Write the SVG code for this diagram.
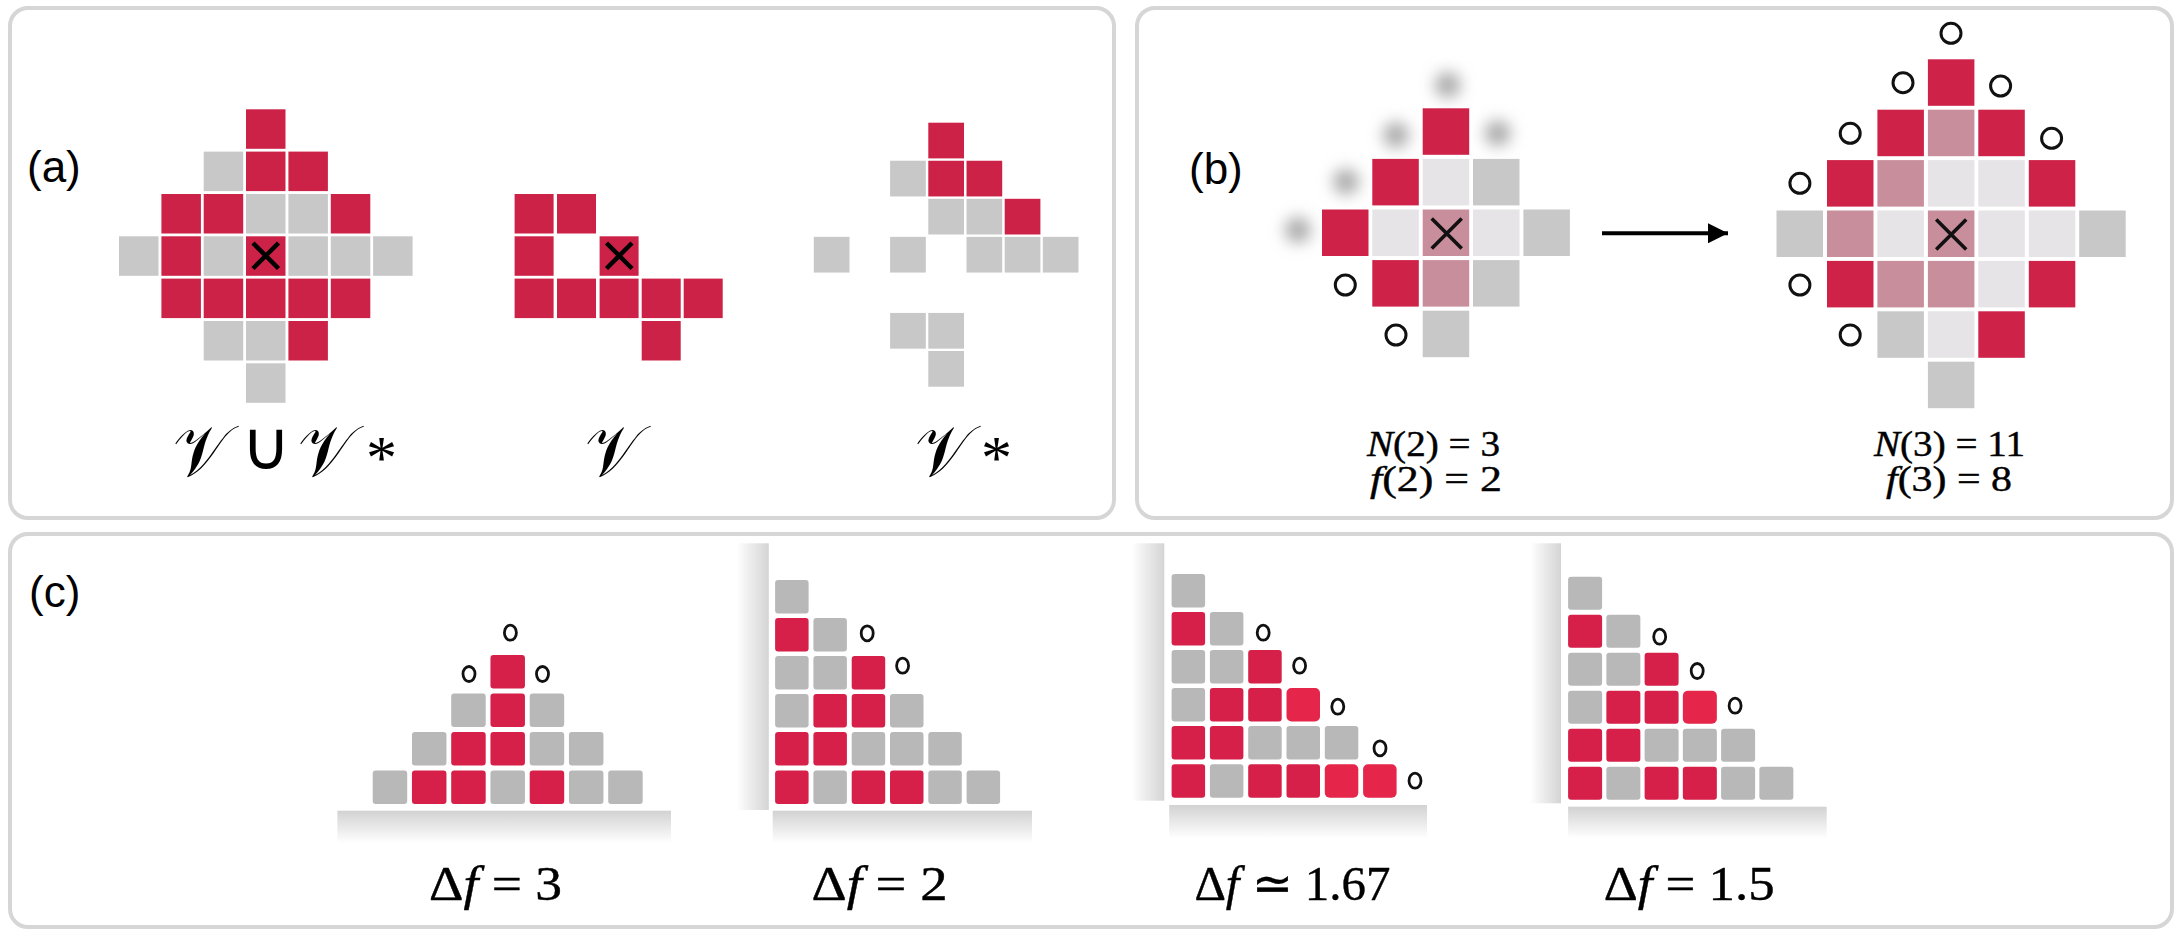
<svg xmlns="http://www.w3.org/2000/svg" width="2184" height="938" viewBox="0 0 2184 938">
<style>
.panel{fill:#fff;stroke:#d6d6d6;stroke-width:4}
.lab{font-family:"Liberation Sans",Arial,sans-serif;font-size:44px;fill:#000}
.math{font-family:"Liberation Serif","Times New Roman",serif;fill:#000;stroke:#000;stroke-width:0.4}
.scr{font-family:"DejaVu Serif","DejaVu Sans",serif;fill:#000}
.it{font-style:italic}
.r{fill:#cd2247}.g{fill:#c8c8c8}
.rb{fill:#ce2249}.lt{fill:#e6e4e6}.pk{fill:#c98e9c}
.cr{fill:#d62049}.cb{fill:#e5264a}.cg{fill:#b8b8b8}
.xa{stroke:#000;stroke-width:4.5;stroke-linecap:butt}
.xb{stroke:#111;stroke-width:3.6}
.o{fill:none;stroke:#111;stroke-width:3}
.oc{fill:none;stroke:#111;stroke-width:2.8}
.blob{fill:#ababab;filter:url(#blur)}
</style>
<defs>
<filter id="blur" x="-1.5" y="-1.5" width="4" height="4"><feGaussianBlur stdDeviation="7.5"/></filter>
<linearGradient id="floor" x1="0" y1="0" x2="0" y2="1"><stop offset="0" stop-color="#d2d2d2"/><stop offset="1" stop-color="#ffffff"/></linearGradient>
<linearGradient id="wall" x1="0" y1="0" x2="1" y2="0"><stop offset="0" stop-color="#ffffff"/><stop offset="1" stop-color="#d4d4d4"/></linearGradient>
<marker id="ah" viewBox="0 0 10 10" refX="10" refY="5" markerWidth="5" markerHeight="5" orient="auto" markerUnits="strokeWidth"><path d="M0,0 L10,5 L0,10 z" fill="#000"/></marker>
</defs>

<rect class="panel" x="10" y="8" width="1104" height="510" rx="18"/>
<rect class="panel" x="1137" y="8" width="1035" height="510" rx="18"/>
<rect class="panel" x="10" y="534" width="2162" height="393" rx="18"/>

<g id="panel-a">
<text class="lab" x="27" y="182">(a)</text>
<g id="grid-union">
<rect class="r" x="246" y="109.3" width="39.5" height="39.5"/>
<rect class="g" x="203.7" y="151.6" width="39.5" height="39.5"/>
<rect class="r" x="246" y="151.6" width="39.5" height="39.5"/>
<rect class="r" x="288.4" y="151.6" width="39.5" height="39.5"/>
<rect class="r" x="161.4" y="194" width="39.5" height="39.5"/>
<rect class="r" x="203.7" y="194" width="39.5" height="39.5"/>
<rect class="g" x="246" y="194" width="39.5" height="39.5"/>
<rect class="g" x="288.4" y="194" width="39.5" height="39.5"/>
<rect class="r" x="330.8" y="194" width="39.5" height="39.5"/>
<rect class="g" x="119" y="236.3" width="39.5" height="39.5"/>
<rect class="r" x="161.4" y="236.3" width="39.5" height="39.5"/>
<rect class="g" x="203.7" y="236.3" width="39.5" height="39.5"/>
<rect class="r" x="246" y="236.3" width="39.5" height="39.5"/>
<rect class="g" x="288.4" y="236.3" width="39.5" height="39.5"/>
<rect class="g" x="330.8" y="236.3" width="39.5" height="39.5"/>
<rect class="g" x="373.1" y="236.3" width="39.5" height="39.5"/>
<rect class="r" x="161.4" y="278.6" width="39.5" height="39.5"/>
<rect class="r" x="203.7" y="278.6" width="39.5" height="39.5"/>
<rect class="r" x="246" y="278.6" width="39.5" height="39.5"/>
<rect class="r" x="288.4" y="278.6" width="39.5" height="39.5"/>
<rect class="r" x="330.8" y="278.6" width="39.5" height="39.5"/>
<rect class="g" x="203.7" y="321" width="39.5" height="39.5"/>
<rect class="g" x="246" y="321" width="39.5" height="39.5"/>
<rect class="r" x="288.4" y="321" width="39.5" height="39.5"/>
<rect class="g" x="246" y="363.3" width="39.5" height="39.5"/>
<path class="xa" d="M253,243 L278.5,268.5 M278.5,243 L253,268.5"/>
<text class="scr" y="476"><tspan x="173" font-size="72" textLength="57" lengthAdjust="spacingAndGlyphs">𝒱</tspan><tspan x="241" y="469" style="font-family:'DejaVu Sans',sans-serif;font-size:68px">∪</tspan><tspan x="298" y="476" font-size="72" textLength="57" lengthAdjust="spacingAndGlyphs">𝒱</tspan><tspan x="366" y="478" style="font-family:'Liberation Serif',serif;font-size:62px">*</tspan></text>
</g>
<g id="grid-v">
<rect class="r" x="514.6" y="194" width="39" height="39.5"/>
<rect class="r" x="557" y="194" width="39" height="39.5"/>
<rect class="r" x="514.6" y="236.3" width="39" height="39.5"/>
<rect class="r" x="599.6" y="236.3" width="39" height="39.5"/>
<rect class="r" x="514.6" y="278.6" width="39" height="39.5"/>
<rect class="r" x="557" y="278.6" width="39" height="39.5"/>
<rect class="r" x="599.6" y="278.6" width="39" height="39.5"/>
<rect class="r" x="641.7" y="278.6" width="39" height="39.5"/>
<rect class="r" x="683.7" y="278.6" width="39" height="39.5"/>
<rect class="r" x="641.7" y="321" width="39" height="39.5"/>
<path class="xa" d="M606.5,243 L632,268.5 M632,243 L606.5,268.5"/>
<text class="scr" x="585" y="476" font-size="72" textLength="57" lengthAdjust="spacingAndGlyphs">𝒱</text>
</g>
<g id="grid-vstar">
<rect class="r" x="928.3" y="122.7" width="35.7" height="35.7"/>
<rect class="g" x="890.1" y="160.75" width="35.7" height="35.7"/>
<rect class="r" x="928.3" y="160.75" width="35.7" height="35.7"/>
<rect class="r" x="966.5" y="160.75" width="35.7" height="35.7"/>
<rect class="g" x="928.3" y="198.8" width="35.7" height="35.7"/>
<rect class="g" x="966.5" y="198.8" width="35.7" height="35.7"/>
<rect class="r" x="1004.7" y="198.8" width="35.7" height="35.7"/>
<rect class="g" x="813.8" y="236.85" width="35.7" height="35.7"/>
<rect class="g" x="890.1" y="236.85" width="35.7" height="35.7"/>
<rect class="g" x="966.5" y="236.85" width="35.7" height="35.7"/>
<rect class="g" x="1004.7" y="236.85" width="35.7" height="35.7"/>
<rect class="g" x="1042.8" y="236.85" width="35.7" height="35.7"/>
<rect class="g" x="890.1" y="312.95" width="35.7" height="35.7"/>
<rect class="g" x="928.3" y="312.95" width="35.7" height="35.7"/>
<rect class="g" x="928.3" y="351" width="35.7" height="35.7"/>
<text class="scr" y="476"><tspan x="915" font-size="72" textLength="57" lengthAdjust="spacingAndGlyphs">𝒱</tspan><tspan x="981" y="478" style="font-family:'Liberation Serif',serif;font-size:62px">*</tspan></text>
</g>
</g>

<g id="panel-b">
<text class="lab" x="1189" y="184">(b)</text>
<g id="grid-b2">
<circle class="blob" cx="1447.7" cy="85" r="13"/>
<circle class="blob" cx="1396" cy="135" r="13"/>
<circle class="blob" cx="1497.7" cy="133.3" r="13"/>
<circle class="blob" cx="1346" cy="181.7" r="13"/>
<circle class="blob" cx="1297.8" cy="230" r="13"/>
<rect class="rb" x="1422.7" y="108.3" width="46.5" height="46.5"/>
<rect class="rb" x="1372.3" y="158.9" width="46.5" height="46.5"/>
<rect class="lt" x="1422.7" y="158.9" width="46.5" height="46.5"/>
<rect class="g" x="1473" y="158.9" width="46.5" height="46.5"/>
<rect class="rb" x="1322" y="209.5" width="46.5" height="46.5"/>
<rect class="lt" x="1372.3" y="209.5" width="46.5" height="46.5"/>
<rect class="pk" x="1422.7" y="209.5" width="46.5" height="46.5"/>
<rect class="lt" x="1473" y="209.5" width="46.5" height="46.5"/>
<rect class="g" x="1523.4" y="209.5" width="46.5" height="46.5"/>
<rect class="rb" x="1372.3" y="260.1" width="46.5" height="46.5"/>
<rect class="pk" x="1422.7" y="260.1" width="46.5" height="46.5"/>
<rect class="g" x="1473" y="260.1" width="46.5" height="46.5"/>
<rect class="g" x="1422.7" y="310.7" width="46.5" height="46.5"/>
<path class="xb" d="M1431.7,218.5 L1461.7,248.5 M1461.7,218.5 L1431.7,248.5"/>
<circle class="o" cx="1345.3" cy="285" r="10"/>
<circle class="o" cx="1396" cy="335" r="10"/>
<text class="math" font-size="35" x="1367" y="456" textLength="133" lengthAdjust="spacingAndGlyphs"><tspan class="it">N</tspan>(2) = 3</text>
<text class="math" font-size="35" x="1370" y="491" textLength="132" lengthAdjust="spacingAndGlyphs"><tspan class="it">f</tspan>(2) = 2</text>
</g>
<g id="grid-b3">
<rect class="rb" x="1927.9" y="59.3" width="46.5" height="46.5"/>
<rect class="rb" x="1877.4" y="109.7" width="46.5" height="46.5"/>
<rect class="pk" x="1927.9" y="109.7" width="46.5" height="46.5"/>
<rect class="rb" x="1978.3" y="109.7" width="46.5" height="46.5"/>
<rect class="rb" x="1827" y="160.1" width="46.5" height="46.5"/>
<rect class="pk" x="1877.4" y="160.1" width="46.5" height="46.5"/>
<rect class="lt" x="1927.9" y="160.1" width="46.5" height="46.5"/>
<rect class="lt" x="1978.3" y="160.1" width="46.5" height="46.5"/>
<rect class="rb" x="2028.8" y="160.1" width="46.5" height="46.5"/>
<rect class="g" x="1776.5" y="210.5" width="46.5" height="46.5"/>
<rect class="pk" x="1827" y="210.5" width="46.5" height="46.5"/>
<rect class="lt" x="1877.4" y="210.5" width="46.5" height="46.5"/>
<rect class="pk" x="1927.9" y="210.5" width="46.5" height="46.5"/>
<rect class="lt" x="1978.3" y="210.5" width="46.5" height="46.5"/>
<rect class="lt" x="2028.8" y="210.5" width="46.5" height="46.5"/>
<rect class="g" x="2079.2" y="210.5" width="46.5" height="46.5"/>
<rect class="rb" x="1827" y="260.9" width="46.5" height="46.5"/>
<rect class="pk" x="1877.4" y="260.9" width="46.5" height="46.5"/>
<rect class="pk" x="1927.9" y="260.9" width="46.5" height="46.5"/>
<rect class="lt" x="1978.3" y="260.9" width="46.5" height="46.5"/>
<rect class="rb" x="2028.8" y="260.9" width="46.5" height="46.5"/>
<rect class="g" x="1877.4" y="311.3" width="46.5" height="46.5"/>
<rect class="lt" x="1927.9" y="311.3" width="46.5" height="46.5"/>
<rect class="rb" x="1978.3" y="311.3" width="46.5" height="46.5"/>
<rect class="g" x="1927.9" y="361.7" width="46.5" height="46.5"/>
<path class="xb" d="M1936.2,219.5 L1966.2,249.5 M1966.2,219.5 L1936.2,249.5"/>
<circle class="o" cx="1951" cy="33.3" r="10"/>
<circle class="o" cx="1903" cy="82.7" r="10"/>
<circle class="o" cx="2000.6" cy="86" r="10"/>
<circle class="o" cx="1850.2" cy="133.3" r="10"/>
<circle class="o" cx="2051.6" cy="138.3" r="10"/>
<circle class="o" cx="1799.9" cy="183.3" r="10"/>
<circle class="o" cx="1799.9" cy="285" r="10"/>
<circle class="o" cx="1850.2" cy="335" r="10"/>
<text class="math" font-size="35" x="1874" y="456" textLength="151" lengthAdjust="spacingAndGlyphs"><tspan class="it">N</tspan>(3) = 11</text>
<text class="math" font-size="35" x="1886" y="491" textLength="126" lengthAdjust="spacingAndGlyphs"><tspan class="it">f</tspan>(3) = 8</text>
</g>
</g>

<g id="connectors">
<line x1="1602" y1="233.3" x2="1728" y2="233.3" stroke="#000" stroke-width="4" marker-end="url(#ah)"/>
</g>

<g id="panel-c">
<text class="lab" x="29" y="607">(c)</text>
<g id="stack-1">
<rect fill="url(#floor)" x="337.4" y="810.7" width="333.6" height="32.6"/>
<rect class="cr" x="490.45" y="655" width="34.5" height="33.5" rx="3"/>
<rect class="cg" x="451.2" y="693.5" width="34.5" height="33.5" rx="3"/>
<rect class="cr" x="490.45" y="693.5" width="34.5" height="33.5" rx="3"/>
<rect class="cg" x="529.7" y="693.5" width="34.5" height="33.5" rx="3"/>
<rect class="cg" x="411.95" y="732" width="34.5" height="33.5" rx="3"/>
<rect class="cr" x="451.2" y="732" width="34.5" height="33.5" rx="3"/>
<rect class="cr" x="490.45" y="732" width="34.5" height="33.5" rx="3"/>
<rect class="cg" x="529.7" y="732" width="34.5" height="33.5" rx="3"/>
<rect class="cg" x="568.95" y="732" width="34.5" height="33.5" rx="3"/>
<rect class="cg" x="372.7" y="770.5" width="34.5" height="33.5" rx="3"/>
<rect class="cr" x="411.95" y="770.5" width="34.5" height="33.5" rx="3"/>
<rect class="cr" x="451.2" y="770.5" width="34.5" height="33.5" rx="3"/>
<rect class="cg" x="490.45" y="770.5" width="34.5" height="33.5" rx="3"/>
<rect class="cr" x="529.7" y="770.5" width="34.5" height="33.5" rx="3"/>
<rect class="cg" x="568.95" y="770.5" width="34.5" height="33.5" rx="3"/>
<rect class="cg" x="608.2" y="770.5" width="34.5" height="33.5" rx="3"/>
<ellipse class="oc" cx="510.4" cy="632.7" rx="6" ry="7.5"/>
<ellipse class="oc" cx="469" cy="674" rx="6" ry="7.5"/>
<ellipse class="oc" cx="542.5" cy="674" rx="6" ry="7.5"/>
<text class="math" font-size="48" x="429" y="900" textLength="133" lengthAdjust="spacingAndGlyphs">Δ<tspan class="it">f</tspan> = 3</text>
</g>
<g id="stack-2">
<rect fill="url(#wall)" x="736.4" y="543.3" width="32.4" height="266.7"/>
<rect fill="url(#floor)" x="772.7" y="810.7" width="259.3" height="32.6"/>
<rect class="cg" x="775.1" y="580" width="33.5" height="33.5" rx="3"/>
<rect class="cr" x="775.1" y="618" width="33.5" height="33.5" rx="3"/>
<rect class="cg" x="813.4" y="618" width="33.5" height="33.5" rx="3"/>
<rect class="cg" x="775.1" y="656" width="33.5" height="33.5" rx="3"/>
<rect class="cg" x="813.4" y="656" width="33.5" height="33.5" rx="3"/>
<rect class="cr" x="851.7" y="656" width="33.5" height="33.5" rx="3"/>
<rect class="cg" x="775.1" y="694" width="33.5" height="33.5" rx="3"/>
<rect class="cr" x="813.4" y="694" width="33.5" height="33.5" rx="3"/>
<rect class="cr" x="851.7" y="694" width="33.5" height="33.5" rx="3"/>
<rect class="cg" x="890" y="694" width="33.5" height="33.5" rx="3"/>
<rect class="cr" x="775.1" y="732" width="33.5" height="33.5" rx="3"/>
<rect class="cr" x="813.4" y="732" width="33.5" height="33.5" rx="3"/>
<rect class="cg" x="851.7" y="732" width="33.5" height="33.5" rx="3"/>
<rect class="cg" x="890" y="732" width="33.5" height="33.5" rx="3"/>
<rect class="cg" x="928.3" y="732" width="33.5" height="33.5" rx="3"/>
<rect class="cr" x="775.1" y="770.5" width="33.5" height="33.5" rx="3"/>
<rect class="cg" x="813.4" y="770.5" width="33.5" height="33.5" rx="3"/>
<rect class="cr" x="851.7" y="770.5" width="33.5" height="33.5" rx="3"/>
<rect class="cr" x="890" y="770.5" width="33.5" height="33.5" rx="3"/>
<rect class="cg" x="928.3" y="770.5" width="33.5" height="33.5" rx="3"/>
<rect class="cg" x="966.6" y="770.5" width="33.5" height="33.5" rx="3"/>
<ellipse class="oc" cx="867.2" cy="633.3" rx="6" ry="7.5"/>
<ellipse class="oc" cx="902.6" cy="665.7" rx="6" ry="7.5"/>
<text class="math" font-size="48" x="811.5" y="900" textLength="136" lengthAdjust="spacingAndGlyphs">Δ<tspan class="it">f</tspan> = 2</text>
</g>
<g id="stack-3">
<rect fill="url(#wall)" x="1131.4" y="543.3" width="32.9" height="257.4"/>
<rect fill="url(#floor)" x="1169.2" y="805" width="257.8" height="33.3"/>
<rect class="cg" x="1171.6" y="574" width="33.5" height="33.5" rx="3"/>
<rect class="cr" x="1171.6" y="612" width="33.5" height="33.5" rx="3"/>
<rect class="cg" x="1209.9" y="612" width="33.5" height="33.5" rx="3"/>
<rect class="cg" x="1171.6" y="650" width="33.5" height="33.5" rx="3"/>
<rect class="cg" x="1209.9" y="650" width="33.5" height="33.5" rx="3"/>
<rect class="cr" x="1248.2" y="650" width="33.5" height="33.5" rx="3"/>
<rect class="cg" x="1171.6" y="688" width="33.5" height="33.5" rx="3"/>
<rect class="cr" x="1209.9" y="688" width="33.5" height="33.5" rx="3"/>
<rect class="cr" x="1248.2" y="688" width="33.5" height="33.5" rx="3"/>
<rect class="cb" x="1286.5" y="688" width="33.5" height="33.5" rx="5"/>
<rect class="cr" x="1171.6" y="726" width="33.5" height="33.5" rx="3"/>
<rect class="cr" x="1209.9" y="726" width="33.5" height="33.5" rx="3"/>
<rect class="cg" x="1248.2" y="726" width="33.5" height="33.5" rx="3"/>
<rect class="cg" x="1286.5" y="726" width="33.5" height="33.5" rx="3"/>
<rect class="cg" x="1324.8" y="726" width="33.5" height="33.5" rx="3"/>
<rect class="cr" x="1171.6" y="764.3" width="33.5" height="33.5" rx="3"/>
<rect class="cg" x="1209.9" y="764.3" width="33.5" height="33.5" rx="3"/>
<rect class="cr" x="1248.2" y="764.3" width="33.5" height="33.5" rx="3"/>
<rect class="cr" x="1286.5" y="764.3" width="33.5" height="33.5" rx="3"/>
<rect class="cb" x="1324.8" y="764.3" width="33.5" height="33.5" rx="5"/>
<rect class="cb" x="1363.1" y="764.3" width="33.5" height="33.5" rx="5"/>
<ellipse class="oc" cx="1263.2" cy="632.7" rx="6" ry="7.5"/>
<ellipse class="oc" cx="1299.6" cy="665.7" rx="6" ry="7.5"/>
<ellipse class="oc" cx="1337.8" cy="706.7" rx="6" ry="7.5"/>
<ellipse class="oc" cx="1380" cy="748.3" rx="6" ry="7.5"/>
<ellipse class="oc" cx="1415" cy="780.7" rx="6" ry="7.5"/>
<text class="math" font-size="48" x="1194.4" y="900" textLength="196" lengthAdjust="spacingAndGlyphs">Δ<tspan class="it">f</tspan> ≃ 1.67</text>
</g>
<g id="stack-4">
<rect fill="url(#wall)" x="1530.2" y="543.3" width="30.8" height="260"/>
<rect fill="url(#floor)" x="1568.1" y="806.7" width="258.6" height="31.6"/>
<rect class="cg" x="1568.1" y="576.7" width="34" height="33" rx="3"/>
<rect class="cr" x="1568.1" y="614.7" width="34" height="33" rx="3"/>
<rect class="cg" x="1606.35" y="614.7" width="34" height="33" rx="3"/>
<rect class="cg" x="1568.1" y="652.7" width="34" height="33" rx="3"/>
<rect class="cg" x="1606.35" y="652.7" width="34" height="33" rx="3"/>
<rect class="cr" x="1644.6" y="652.7" width="34" height="33" rx="3"/>
<rect class="cg" x="1568.1" y="690.7" width="34" height="33" rx="3"/>
<rect class="cr" x="1606.35" y="690.7" width="34" height="33" rx="3"/>
<rect class="cr" x="1644.6" y="690.7" width="34" height="33" rx="3"/>
<rect class="cb" x="1682.85" y="690.7" width="34" height="33" rx="5"/>
<rect class="cr" x="1568.1" y="728.7" width="34" height="33" rx="3"/>
<rect class="cr" x="1606.35" y="728.7" width="34" height="33" rx="3"/>
<rect class="cg" x="1644.6" y="728.7" width="34" height="33" rx="3"/>
<rect class="cg" x="1682.85" y="728.7" width="34" height="33" rx="3"/>
<rect class="cg" x="1721.1" y="728.7" width="34" height="33" rx="3"/>
<rect class="cr" x="1568.1" y="766.7" width="34" height="33" rx="3"/>
<rect class="cg" x="1606.35" y="766.7" width="34" height="33" rx="3"/>
<rect class="cr" x="1644.6" y="766.7" width="34" height="33" rx="3"/>
<rect class="cr" x="1682.85" y="766.7" width="34" height="33" rx="3"/>
<rect class="cg" x="1721.1" y="766.7" width="34" height="33" rx="3"/>
<rect class="cg" x="1759.35" y="766.7" width="34" height="33" rx="3"/>
<ellipse class="oc" cx="1659.7" cy="636.7" rx="6" ry="7.5"/>
<ellipse class="oc" cx="1697.2" cy="671" rx="6" ry="7.5"/>
<ellipse class="oc" cx="1735.1" cy="705.7" rx="6" ry="7.5"/>
<text class="math" font-size="48" x="1603.7" y="900" textLength="171" lengthAdjust="spacingAndGlyphs">Δ<tspan class="it">f</tspan> = 1.5</text>
</g>
</g>
</svg>
